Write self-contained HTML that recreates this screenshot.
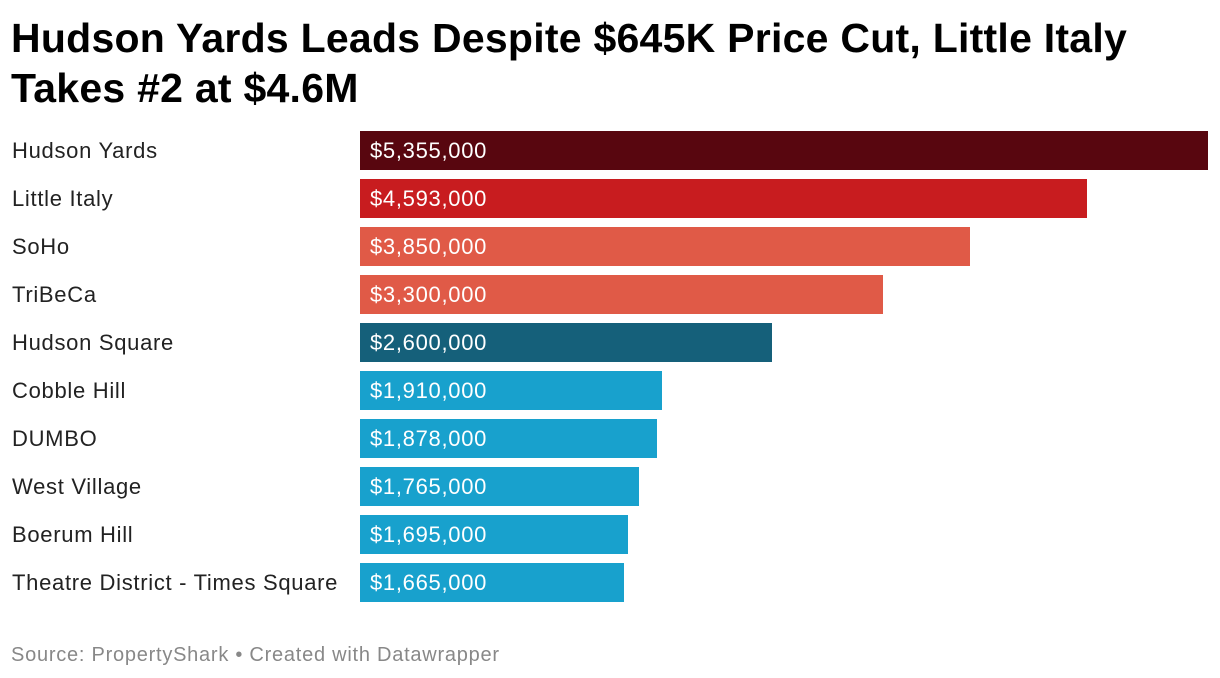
<!DOCTYPE html>
<html><head><meta charset="utf-8"><style>
body{margin:0;width:1220px;height:678px;background:#fff;font-family:"Liberation Sans",sans-serif;overflow:hidden;position:relative}
h1{position:absolute;left:11px;top:13px;margin:0;font-size:41px;line-height:50px;font-weight:bold;color:#000;letter-spacing:0.25px}
.lbl{position:absolute;left:12px;font-size:22px;color:#222;line-height:39px;white-space:nowrap;letter-spacing:0.7px}
.bar{position:absolute;left:360px;height:39px}
.val{position:absolute;left:370px;font-size:22px;color:#fff;line-height:39px;letter-spacing:0.7px}
.src{position:absolute;left:11px;top:644px;font-size:20px;color:#888;letter-spacing:0.75px}
</style></head><body>
<h1>Hudson Yards Leads Despite $645K Price Cut, Little Italy<br>Takes #2 at $4.6M</h1>
<div id="chart"></div>
<div class="src">Source: PropertyShark • Created with Datawrapper</div>
<script>
const categories=["Hudson Yards","Little Italy","SoHo","TriBeCa","Hudson Square","Cobble Hill","DUMBO","West Village","Boerum Hill","Theatre District - Times Square"];
const values=[5355000,4593000,3850000,3300000,2600000,1910000,1878000,1765000,1695000,1665000];
const colors=["#58060f","#c81c1f","#e05a47","#e05a47","#15607a","#18a1cd","#18a1cd","#18a1cd","#18a1cd","#18a1cd"];
const x=v=>v/5355000*848;
const y=i=>131+i*48;
const c=document.getElementById('chart');
categories.forEach((cat,i)=>{
 const l=document.createElement('div');l.className='lbl';l.style.top=y(i)+'px';l.textContent=cat;
 
 
 const b=document.createElement('div');b.className='bar';b.style.top=y(i)+'px';b.style.width=x(values[i])+'px';b.style.background=colors[i];
 
 
 const v=document.createElement('div');v.className='val';v.style.top=y(i)+'px';v.textContent='$'+values[i].toLocaleString('en-US');
 
 
 c.append(l,b,v);
});
</script>
</body></html>
